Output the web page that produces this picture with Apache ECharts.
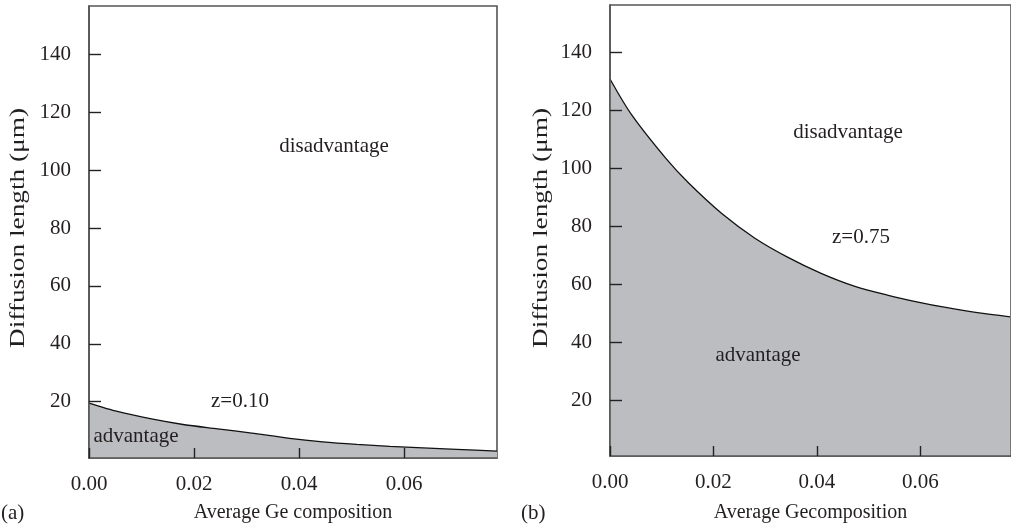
<!DOCTYPE html>
<html>
<head>
<meta charset="utf-8">
<script src="https://cdn.jsdelivr.net/npm/echarts@6/dist/echarts.min.js"></script>
<style>
html,body{margin:0;padding:0;background:#fff;}
#c{width:1011px;height:528px;}
</style>
</head>
<body>
<div id="c"></div>
<script>
// Panel (a): z = 0.10
const xA = [0, 0.0054, 0.0119, 0.0182, 0.0245, 0.031, 0.0382, 0.0445, 0.051, 0.0573, 0.0636, 0.070, 0.0777];
const yA = [19.5, 16.6, 14.0, 12.0, 10.6, 9.1, 7.3, 6.1, 5.2, 4.5, 4.0, 3.5, 2.9];
// Panel (b): z = 0.75
const xB = [0, 0.0042, 0.0108, 0.0152, 0.0216, 0.0280, 0.0344, 0.0408, 0.0472, 0.0536, 0.0600, 0.0646, 0.071, 0.0773];
const yB = [130.9, 118.5, 103.5, 95.0, 84.5, 76.0, 69.4, 63.9, 59.5, 56.4, 53.8, 52.2, 50.3, 48.9];

const xTickStep = 0.02;
const yTicks = [20, 40, 60, 80, 100, 120, 140];

const FONT = 'Liberation Serif';
const TXT = '#231f20';
const AXC = '#555555';

function xAxisCfg(grid, name, max, gap) {
  return {
    type: 'value', gridIndex: grid, min: 0, max: max, interval: xTickStep, z: 5,
    name: name, nameLocation: 'middle', nameGap: gap,
    nameTextStyle: {fontFamily: FONT, fontSize: 20, color: TXT},
    axisLine: {show: true, onZero: false, lineStyle: {color: AXC, width: 1.6}},
    axisTick: {show: true, inside: true, length: 10, lineStyle: {color: '#222', width: 1.4}},
    axisLabel: {show: true, margin: 16, showMaxLabel: false, fontFamily: FONT, fontSize: 21, color: TXT,
      formatter: v => (v > 0.07 ? '' : v.toFixed(2))},
    splitLine: {show: false}
  };
}
function yAxisCfg(grid, min, max, margin) {
  return {
    type: 'value', gridIndex: grid, min: min, max: max, z: 5,
    axisLine: {show: true, onZero: false, lineStyle: {color: AXC, width: 1.6}},
    axisTick: {show: true, inside: true, length: 12, customValues: yTicks, lineStyle: {color: '#222', width: 1.4}},
    axisLabel: {show: true, margin: margin, customValues: yTicks, fontFamily: FONT, fontSize: 21, color: TXT},
    splitLine: {show: false}
  };
}
function txt(x, y, s, align) {
  return {type: 'text', x: x, y: y, z: 20,
    style: {text: s, fontFamily: FONT, fontSize: 21, fill: TXT, align: align || 'center', verticalAlign: 'middle'}};
}
function ytitle(x, y) {
  return {type: 'text', x: x, y: y, rotation: Math.PI / 2, scaleX: 1.3, z: 20,
    style: {text: 'Diffusion length (\u03bcm)', fontFamily: FONT, fontSize: 21, fill: TXT, align: 'center', verticalAlign: 'middle'}};
}

const chart = echarts.init(document.getElementById('c'), null, {renderer: 'canvas'});
chart.setOption({
  animation: false,
  backgroundColor: '#ffffff',
  grid: [
    {left: 89, top: 6, width: 408, height: 452, show: true, borderColor: AXC, borderWidth: 1.6, backgroundColor: 'transparent'},
    {left: 610, top: 5, width: 403, height: 451, show: true, borderColor: AXC, borderWidth: 1.6, backgroundColor: 'transparent'}
  ],
  xAxis: [
    xAxisCfg(0, 'Average Ge composition', 0.0777, 45),
    xAxisCfg(1, 'Average Gecomposition', 0.0775, 47)
  ],
  yAxis: [
    yAxisCfg(0, 0.5, 156.8, 18),
    yAxisCfg(1, 0.9, 156.4, 18)
  ],
  series: [
    {
      type: 'line', xAxisIndex: 0, yAxisIndex: 0, showSymbol: false, smooth: 0.25, z: 2,
      data: xA.map((x, i) => [x, yA[i]]),
      lineStyle: {color: '#111', width: 1.3},
      areaStyle: {color: '#bcbdc1', opacity: 1, origin: 'start'}
    },
    {
      type: 'line', xAxisIndex: 1, yAxisIndex: 1, showSymbol: false, smooth: 0.3, z: 2,
      data: xB.map((x, i) => [x, yB[i]]),
      lineStyle: {color: '#111', width: 1.3},
      areaStyle: {color: '#bcbdc1', opacity: 1, origin: 'start'}
    }
  ],
  graphic: [
    txt(334, 146, 'disadvantage'),
    txt(240, 401, 'z=0.10'),
    txt(136, 436, 'advantage'),
    txt(848, 132, 'disadvantage'),
    txt(861, 237, 'z=0.75'),
    txt(758, 355, 'advantage'),
    txt(1, 513, '(a)', 'left'),
    txt(521, 513, '(b)', 'left'),
    ytitle(18, 228),
    ytitle(541, 228)
  ]
});
</script>
</body>
</html>
